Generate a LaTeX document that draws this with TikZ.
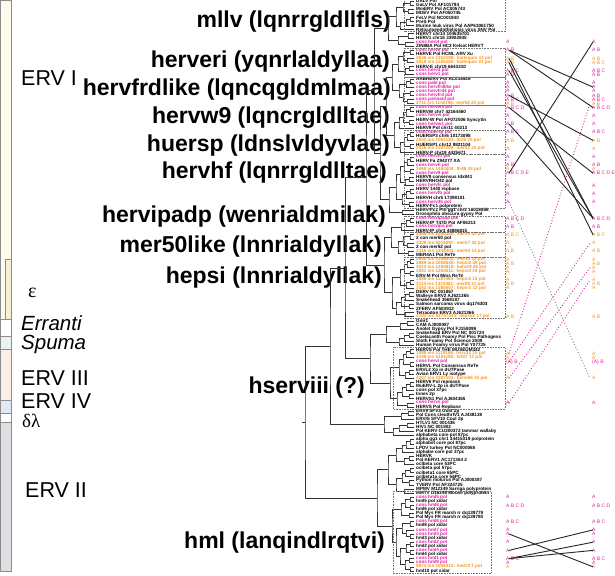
\documentclass[tikz,border=0pt]{standalone}
\usepackage{fontspec}
\setmainfont{Liberation Sans}
\newfontfamily\grk{Liberation Serif}
\usetikzlibrary{calc}
\definecolor{cm}{RGB}{228,30,160}
\definecolor{co}{RGB}{243,152,36}
\colorlet{cb}{black}
\definecolor{ervone}{RGB}{252,251,236}
\definecolor{epsb}{RGB}{246,241,214}
\definecolor{spum}{RGB}{233,243,239}
\definecolor{ervthree}{RGB}{251,239,233}
\definecolor{ervfour}{RGB}{223,232,243}
\definecolor{ervtwo}{RGB}{222,223,226}
\tikzset{
  branch/.style={draw=black!80, line width=0.6pt},
  leaf/.style={anchor=west, inner sep=0pt, font=\fontsize{4.6}{5}\selectfont\bfseries},
  tag/.style={anchor=west, inner sep=0pt, font=\fontsize{5}{6}\selectfont},
  big/.style={anchor=east, inner sep=0pt, font=\fontsize{23}{24}\selectfont\bfseries},
  cls/.style={anchor=west, inner sep=0pt, font=\fontsize{21.5}{22}\selectfont},
  bar/.style={draw=black!45, line width=0.7pt},
  dbox/.style={draw=black!55, densely dotted, line width=0.6pt},
  tie/.style={draw=black!85, line width=0.9pt},
  pinkdot/.style={draw=cm, dotted, line width=0.9pt},
  graydot/.style={draw=black!50, dotted, line width=0.9pt}
}
% join two clades at x = #2
\newcommand\jn[4]{%
  \path let \p1=($(#3)!.5!(#4)$) in (#2,\y1) coordinate (#1);
  \draw[branch] (#3) -| (#1) |- (#4);}
% dotted box round leaves #1..#2
\newcommand\dbox[4]{%
  \draw[dbox] (#3,{1+4.1*#1-2.05}) rectangle (#4,{1+4.1*#2+2.05});}

\begin{document}
\begin{tikzpicture}[x=1pt,y=-1pt]
\fill[white] (0,0) rectangle (615,575);
\useasboundingbox (0,0) rectangle (615,575);

% class bar
\draw[bar, fill=ervone] (0.5,0.5) rectangle (11.5,319);
\draw[bar, fill=epsb] (5.5,259) rectangle (11.5,319);
\draw[bar, fill=white] (0.5,319) rectangle (11.5,336);
\draw[bar, fill=spum] (0.5,336) rectangle (11.5,349);
\draw[bar, fill=ervthree] (0.5,349) rectangle (11.5,400);
\draw[bar, fill=ervfour] (0.5,400) rectangle (11.5,413);
\draw[bar, fill=white] (0.5,413) rectangle (11.5,422);
\draw[bar, fill=ervtwo] (0.5,422) rectangle (11.5,571);

\node[cls] (c1) at (21,78) {ERV I};
\node[cls, font=\fontsize{20}{22}\selectfont\grk] (c2) at (28,293) {ε};
\node[cls, font=\fontsize{20.5}{22}\selectfont\itshape] (c3) at (21,323) {Erranti};
\node[cls, font=\fontsize{20.5}{22}\selectfont\itshape] (c4) at (21,344) {Spuma};
\node[cls] (c5) at (21,378) {ERV III};
\node[cls] (c6) at (21,401) {ERV IV};
\node[cls, font=\fontsize{19}{20}\selectfont\grk] (c7) at (22,421) {δλ};
\node[cls] (c8) at (25,490) {ERV II};

% gene names
\node[big] (g1) at (391,22) {mllv (lqnrrgldllfls)};
\node[big] (g2) at (390,62) {herveri (yqnrlaldyllaa)};
\node[big] (g3) at (391,90) {hervfrdlike (lqncqgldmlmaa)};
\node[big] (g4) at (390,118) {hervw9 (lqncrgldlltae)};
\node[big] (g5) at (390,146) {huersp (ldnslvldyvlae)};
\node[big] (g6) at (387,173) {hervhf (lqnrrgldlltae)};
\node[big] (g7) at (386,217) {hervipadp (wenrialdmilak)};
\node[big] (g8) at (382,247) {mer50like (lnnrialdyllak)};
\node[big] (g9) at (382,278) {hepsi (lnnrialdyllak)};
\node[big] (g10) at (365,388) {hserviii (?)};
\node[big] (g11) at (385,543) {hml (lanqindlrqtvi)};

% leaves
\foreach \col/\txt [count=\k from 0] in {
 b/DALV Pol, b/GaLV Pol AF101794, b/MmERV Pol AC005743, b/MDEV Pol AF050745,
 b/FeLV Pol NC001940, b/PreS Pol, b/Murine leuk virus Pol AAP63061750,
 b/Reticuloendotheliosis virus SNV Pol, b/HERVT chr14 104635701, b/HERV1 chr16 33902845,
 m/cons hervt pol, b/ZIN8BA Pol HC3 Kelsat HERVT, m/cons herve pol, b/HERVE Pol HCML ARV Xu,
 o/2636 ins 1352189: harlequin 13 pol, o/4018 ins 1105226: harlequin 21 pol,
 b/HERV-E chr19 6643210, m/cons herv3 pol, m/cons herv1 pol, b/ARBRERV Pol AC018526,
 m/cons pabl pol, m/cons hervfrdlike pol, m/cons hervfrd4 pol, m/cons hervfrd pol,
 m/cons parinaid pol, o/2711 ins 1150196: mer58 23 pol, m/cons hervw9 pol,
 b/HERVW chr7 42164460, m/cons hervw pol, b/HERV-W Pol AF072506 Syncytin,
 m/cons hervw1 pol, b/HERV9 Pol chr11 40213, m/cons huersp pol, b/HUERSP3 chr6 10173098,
 o/2502 ins 1061130: ltr25 15 pol, b/HUERSP1 chr12 9821104, o/2516 ins 1187209: mer52 23 pol,
 b/HERV-P chr19 4425671, m/cons hervhf pol, b/HERV Fa Z94277 XA, m/cons hervh pol,
 o/3468 ins 1463404: ltr46 18 pol, m/cons herv9 pol, b/HERV9 consensus Idx841,
 b/HERVRHO42 pol, m/cons hervfc pol, b/HERV 1440 repbase, m/cons hervfb pol,
 b/HERVH chr5 17398101, m/cons herv35 pol, b/HERV-Fc1 polprotein,
 b/HERV-Fc1 Pol gg1 chr2 16018858, b/Drosophila obscura gypsy Pol, m/cons hervipadp pol,
 b/HERV-IP T47D Pol AF06213, m/cons hervipa pol, b/HERV-IP chr3 44886815,
 o/3566 ins 2000182: mer50 30 pol, b/2 con mer50 pol, o/3328 ins 5016097: mer57 32 pol,
 b/2 con mer52 pol, o/3316 ins 1348403: mer84 14 pol, b/MER4A1 Pol ReTe,
 o/2868 ins 1086641: mer54 32 pol, o/2869 ins 1008535: hepsi2 28 pol,
 o/4012 ins 1300819: harv29 28 pol, o/3001 ins 1264511: hepsi4 19 pol, b/ERV-M Pol Mms ReTe,
 o/1086 ins 1187565: hepsi3 15 pol, o/3114 ins 1334461: mer89 21 pol,
 o/3152 ins 1386557: hepsi1 12 pol, b/DERV NC 001867, b/Walleye ERV2 AJ621365,
 b/Snakehead 3569187, b/Salmon sarcoma virus dq176303, b/ZFERV AF503912,
 b/Tetraodon ERV3 AJ621366, o/4102 ins 52747435: hepse2 17 pol, b/Gmr1, b/CAM AJ000087,
 b/Anolet Gypsy Pol FJ158099, b/Snakehead ERV Pol NC 001724,
 b/Coelacanth Foamy Pol Pisc Pathogens, b/Sloth Foamy Pol Science 2009,
 b/Human Foamy virus Pol Y07725, b/HERVS Pol THE MUSEUM342,
 o/1088 ins 1119158: hsrv32 15 pol, o/4149 ins 5101180: hrf27 17 pol, m/cons hervl pol,
 b/HERVL Pol Consensus ReTe, b/ERVL2 Xp in dUTPase, b/Avian ERV1 Ly isotype,
 o/4207 ins 2287101: hervl66 15 pol, b/HERV6 Pol repmask, b/MuERV-L 2p in dUTPase,
 b/cons pol 37pc, b/Innes 2p, b/HERVS1 Pol AJ604365, m/cons hervs pol, b/HERVS Pol Repbase,
 b/ERV9 SFV3 Gust 2p, b/Pol Cons cleuthrIV1 AJ438138, b/ERVIS SFV10 Coul 2p,
 b/HTLV1 NC 001436, b/HIV1 NC 001802, b/Pol KERV CU200372 tammar wallaby,
 b/alphabeta core pol 87pc, b/alpha gg1 chr1 34415319 polprotein, b/alphabet core pol 87pc,
 b/LPDV turkey Pol NC000068, b/alphabe core pol 37pc, b/HERVK, b/Pol KERV1 AC171364 2,
 b/oclbeta core 53PC, b/oclbeta pol 57pc, b/oclbeta1 core 65PC, b/oclbeta1a core 56PC,
 b/Python molurus Pol AJ000387, b/TVERV Pol AF224725, b/MPMV M12349 Sarriga polyprotein,
 b/MMTV D16249 Mouse polyprotein, m/cons hml5 pol, b/hml5 pol xidar, m/cons hml6 pol,
 b/hml6 pol xidar, b/Pol Mys FR marsh rr dq139779, b/Pol Mys FR marsh rr dq139780,
 m/cons hml8 pol, b/hml8 pol xidar, m/cons hml7 pol, m/cons hml3 pol, b/hml3 pol xidar,
 m/cons hml2 pol, b/hml2 pol xidar, m/cons hml4 pol, b/hml4 pol xidar, m/cons hml1 pol,
 m/cons hml9 pol, o/9873 ins 1006313: hml10 7 pol, b/hml10 pol xidar}
{
  \coordinate (l\k) at (414,{1+4.1*\k});
  \node[leaf, text=c\col] (t\k) at (416,{1+4.1*\k}) {\txt};
}

% tree
\jn{a1}{410}{l0}{l1}
\jn{a2}{408}{l2}{l3}
\jn{a3}{403}{a1}{a2}
\jn{a4}{410}{l4}{l5}
\jn{a5}{406}{a4}{l6}
\jn{a6}{400}{a5}{l7}
\jn{a7}{396}{a3}{a6}
\jn{b1}{408}{l8}{l9}
\jn{b2}{405}{l10}{l11}
\jn{b3}{398}{b1}{b2}
\jn{b4}{388}{a7}{b3}
\jn{c1}{410}{l12}{l13}
\jn{c2}{407}{l14}{l15}
\jn{c3}{403}{c1}{c2}
\jn{c4}{409}{l16}{l17}
\jn{c5}{405}{c4}{l18}
\jn{c6}{398}{c3}{c5}
\jn{d1}{410}{l19}{l20}
\jn{d2}{406}{d1}{l21}
\jn{d3}{410}{l22}{l23}
\jn{d4}{407}{l24}{l25}
\jn{d5}{403}{d3}{d4}
\jn{d6}{399}{d2}{d5}
\jn{cd}{392}{c6}{d6}
\jn{e1}{410}{l26}{l27}
\jn{e2}{406}{e1}{l28}
\jn{e3}{409}{l29}{l30}
\jn{e4}{403}{e2}{e3}
\jn{e5}{399}{e4}{l31}
\jn{f1}{410}{l32}{l33}
\jn{f2}{407}{f1}{l34}
\jn{f3}{410}{l35}{l36}
\jn{f4}{404}{f2}{f3}
\jn{f5}{400}{f4}{l37}
\jn{ef}{394}{e5}{f5}
\jn{cf}{386}{cd}{ef}
\jn{h1}{410}{l38}{l39}
\jn{h2}{407}{h1}{l40}
\jn{h3}{410}{l41}{l42}
\jn{h4}{404}{h2}{h3}
\jn{h5}{409}{l43}{l44}
\jn{h6}{405}{h5}{l45}
\jn{h7}{400}{h4}{h6}
\jn{h8}{410}{l46}{l47}
\jn{h9}{406}{h8}{l48}
\jn{h10}{409}{l49}{l50}
\jn{h11}{402}{h9}{h10}
\jn{h12}{396}{h7}{h11}
\jn{h13}{402}{l51}{l52}
\jn{gh}{389}{h12}{h13}
\jn{u1}{380}{cf}{gh}
\jn{u2}{374}{b4}{u1}
\jn{i1}{410}{l53}{l54}
\jn{i2}{406}{i1}{l55}
\jn{i3}{401}{i2}{l56}
\jn{j1}{410}{l57}{l58}
\jn{j2}{407}{l59}{l60}
\jn{j3}{403}{j1}{j2}
\jn{j4}{408}{l61}{l62}
\jn{j5}{398}{j3}{j4}
\jn{ij}{391}{i3}{j5}
\jn{k1}{410}{l63}{l64}
\jn{k2}{407}{k1}{l65}
\jn{k3}{410}{l66}{l67}
\jn{k4}{404}{k2}{k3}
\jn{k5}{410}{l68}{l69}
\jn{k6}{406}{k5}{l70}
\jn{k7}{400}{k4}{k6}
\jn{k8}{409}{l71}{l72}
\jn{k9}{405}{k8}{l73}
\jn{k10}{409}{l74}{l75}
\jn{k11}{401}{k9}{k10}
\jn{k12}{405}{l76}{l77}
\jn{k13}{396}{k11}{k12}
\jn{k14}{392}{k7}{k13}
\jn{ik}{384}{ij}{k14}
\jn{erv1}{366}{u2}{ik}
\jn{m1}{407}{l78}{l79}
\jn{m2}{400}{m1}{l80}
\jn{m3}{409}{l81}{l82}
\jn{m4}{404}{m3}{l83}
\jn{m5}{399}{m4}{l84}
\jn{m6}{386}{m2}{m5}
\jn{o1}{410}{l85}{l86}
\jn{o2}{406}{o1}{l87}
\jn{o3}{410}{l88}{l89}
\jn{o4}{403}{o2}{o3}
\jn{o5}{409}{l90}{l91}
\jn{o6}{405}{o5}{l92}
\jn{o7}{399}{o4}{o6}
\jn{o8}{410}{l93}{l94}
\jn{o9}{406}{o8}{l95}
\jn{o10}{409}{l96}{l97}
\jn{o11}{402}{o9}{o10}
\jn{o12}{407}{l98}{l99}
\jn{o13}{397}{o11}{o12}
\jn{o14}{390}{o7}{o13}
\jn{erv3}{370}{m6}{o14}
\jn{n1}{408}{l100}{l101}
\jn{n2}{401}{n1}{l102}
\jn{n3}{407}{l103}{l104}
\jn{n4}{399}{n3}{l105}
\jn{n5}{393}{n4}{l106}
\jn{n6}{384}{n2}{n5}
\jn{p1}{410}{l107}{l108}
\jn{p2}{406}{p1}{l109}
\jn{p3}{402}{p2}{l110}
\jn{p4}{409}{l111}{l112}
\jn{p5}{404}{p4}{l113}
\jn{p6}{396}{p3}{p5}
\jn{p7}{410}{l114}{l115}
\jn{p8}{405}{p7}{l116}
\jn{p9}{409}{l117}{l118}
\jn{p10}{402}{p8}{p9}
\jn{p11}{404}{l119}{l120}
\jn{p12}{396}{p10}{p11}
\jn{p13}{388}{p6}{p12}
\jn{q1}{410}{l121}{l122}
\jn{q2}{410}{l123}{l124}
\jn{q3}{405}{q1}{q2}
\jn{q4}{409}{l125}{l126}
\jn{q5}{401}{q3}{q4}
\jn{q6}{410}{l127}{l128}
\jn{q7}{410}{l130}{l131}
\jn{q8}{406}{l129}{q7}
\jn{q9}{402}{q6}{q8}
\jn{q10}{410}{l132}{l133}
\jn{q11}{410}{l134}{l135}
\jn{q12}{406}{q10}{q11}
\jn{q13}{409}{l136}{l137}
\jn{q14}{410}{l138}{l139}
\jn{q15}{405}{q13}{q14}
\jn{q16}{400}{q12}{q15}
\jn{q17}{396}{q9}{q16}
\jn{q18}{392}{q5}{q17}
\jn{erv2}{377}{p13}{q18}
\jn{r1}{345}{erv1}{erv3}
\jn{r2}{330}{r1}{n6}
\jn{root}{305}{r2}{erv2}
\draw[branch] (root) -- ++(-3,0);

% clade boxes
\dbox{0}{7}{404}{505}
\dbox{12}{18}{404}{505}
\dbox{19}{25}{404}{505}
\dbox{26}{31}{404}{505}
\dbox{32}{37}{404}{505}
\dbox{38}{50}{404}{505}
\dbox{53}{56}{404}{505}
\dbox{57}{62}{404}{505}
\dbox{63}{77}{404}{505}
\dbox{85}{99}{393}{505}
\dbox{120}{139}{393}{491}

% domain tags
\foreach \k/\col/\la/\ra in {
 10/m/A/A, 12/m/A B/A B, 14/o/A B/A B, 15/o/A B/A B C, 17/m/A B C/A B C, 18/m/A B/A B,
 20/m/A/A, 21/m/A/A, 22/m/A/A, 23/m/A B/A B, 24/m/A B C/A B C, 25/o/A B/A B,
 26/m/A B C D/A B C D, 28/m/A/A, 30/m/A B/A, 32/m/A B C/A B C, 34/o/A B/A B, 36/o/A/A,
 38/m/A/A, 40/m/A B/A B, 41/o/A/A, 42/m/A B C D E/A B C D E, 45/m/A/A, 47/m/A/A,
 49/m/A/A, 53/m/A B C D/A B C D, 55/m/A B/A B, 57/o/A B C/A B C, 59/o/A/A,
 61/o/A B/A B, 63/o/A/A, 64/o/A B/A B, 65/o/A/A, 66/o/A/A, 68/o/A/A, 69/o/A B/A B,
 70/o/A/A, 77/o/A B/A B, 86/o/A/A, 87/o/A/A, 88/m/{(A) B}/{(A) B}, 92/o/A/A, 98/m/A/A,
 121/m/A/A, 123/m/A B C D/A B C D, 127/m/A B C/A B C, 129/m/A/A, 130/m/A/A,
 132/m/A/A, 134/m/A/A, 136/m/A B C/A B C, 137/m/A/A, 138/o/A/A}
{
  \node[tag, text=c\col] (al\k) at (506,{1+4.1*\k}) {\la};
  \node[tag, text=c\col] (ar\k) at (592,{1+4.1*\k}) {\ra};
}

% links
\foreach \a/\b in {12/26, 12/21, 14/53, 15/57, 17/53, 23/34, 26/42, 30/53, 42/10,
  130/138, 134/129, 136/132, 136/134}
  \draw[tie] ([xshift=3]al\a.west) -- ([xshift=1]ar\b.west);
\foreach \a/\b in {86/25, 88/59, 92/65, 98/68}
  \draw[pinkdot] ([xshift=3]al\a.west) -- ([xshift=-2]ar\b.west);
\draw[graydot] ([xshift=3]al49.west) -- ([xshift=-2]ar92.west);
\end{tikzpicture}
\end{document}
